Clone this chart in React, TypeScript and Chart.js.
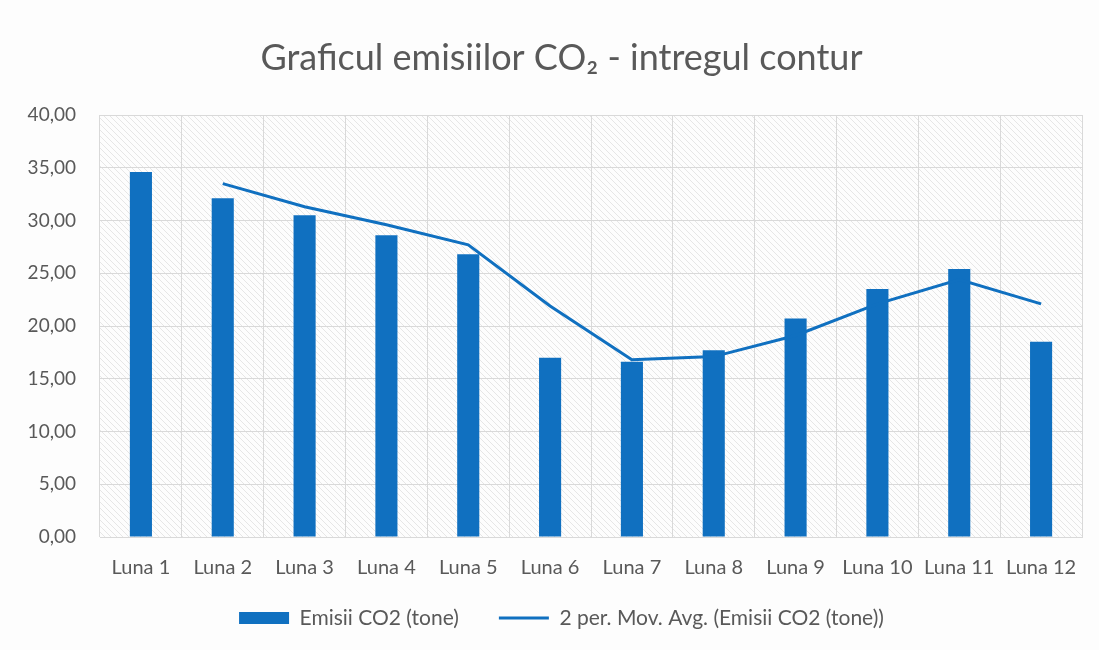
import React, { useEffect, useRef } from "react";
import { Chart, registerables } from "chart.js";

Chart.register(...registerables);

const categories = ["Luna 1", "Luna 2", "Luna 3", "Luna 4", "Luna 5", "Luna 6", "Luna 7", "Luna 8", "Luna 9", "Luna 10", "Luna 11", "Luna 12"];
const emisii = [34.6, 32.1, 30.5, 28.6, 26.8, 17.0, 16.6, 17.7, 20.7, 23.5, 25.4, 18.5];
const movAvg = [null, 33.5, 31.3, 29.6, 27.7, 21.9, 16.8, 17.1, 19.1, 22.1, 24.4, 22.1];
const yTickValues = [0, 5, 10, 15, 20, 25, 30, 35, 40];
const barLabel = "Emisii CO2 (tone)";
const lineLabel = "2 per. Mov. Avg. (Emisii CO2 (tone))";
const titleText = "Graficul emisiilor CO\u2082 - intregul contur";

const BLUE = "#1070c0";
const TEXT = "#595959";
const GRID = "#d9d9d9";
const FONT = "Lato, 'Open Sans', sans-serif";
const Y_FONT_SIZE = 19;

const fmt = (v: number) => Number(v).toFixed(2).replace(".", ",");

const hatchPlugin = {
  id: "hatch",
  beforeDraw(chart: any) {
    const { ctx, chartArea } = chart;
    const pc = document.createElement("canvas");
    pc.width = 6;
    pc.height = 6;
    const p = pc.getContext("2d")!;
    p.strokeStyle = "#e6e6e6";
    p.lineWidth = 1;
    p.beginPath();
    p.moveTo(0, 0);
    p.lineTo(6, 6);
    p.moveTo(-1, 5);
    p.lineTo(1, 7);
    p.moveTo(5, -1);
    p.lineTo(7, 1);
    p.stroke();
    ctx.save();
    ctx.fillStyle = "#fdfdfd";
    ctx.fillRect(0, 0, chart.width, chart.height);
    const pat = ctx.createPattern(pc, "repeat");
    if (pat) {
      ctx.fillStyle = pat;
      ctx.fillRect(chartArea.left, chartArea.top, chartArea.right - chartArea.left, chartArea.bottom - chartArea.top);
    }
    ctx.restore();
  },
};

export default function App() {
  const ref = useRef<HTMLCanvasElement | null>(null);
  useEffect(() => {
    if (!ref.current) return;
    const mctx = ref.current.getContext("2d")!;
    mctx.font = `${Y_FONT_SIZE}px ${FONT}`;
    const widest = Math.max(...yTickValues.map((v) => mctx.measureText(fmt(v)).width));
    const chart = new Chart(ref.current, {
      type: "bar",
      data: {
        labels: categories,
        datasets: [
          {
            type: "line",
            label: lineLabel,
            data: movAvg as any,
            borderColor: BLUE,
            borderWidth: 3,
            pointRadius: 0,
            tension: 0,
            order: 0,
          } as any,
          {
            type: "bar",
            label: barLabel,
            data: emisii,
            backgroundColor: BLUE,
            categoryPercentage: 1,
            barPercentage: 0.27,
            order: 1,
          },
        ],
      },
      plugins: [hatchPlugin],
      options: {
        responsive: false,
        animation: false,
        layout: { padding: { left: 41, right: 17, top: 0, bottom: 11.5 } },
        plugins: {
          title: {
            display: true,
            text: titleText,
            color: TEXT,
            font: { family: FONT, size: 36, weight: "normal" },
            padding: { top: 36.4, bottom: 35.4 },
          },
          legend: {
            position: "bottom",
            labels: {
              color: TEXT,
              font: { family: FONT, size: 21 },
              usePointStyle: true,
              pointStyleWidth: 50,
              boxHeight: 12,
              padding: 40,
              generateLabels: () => [
                {
                  text: barLabel,
                  fillStyle: BLUE,
                  strokeStyle: BLUE,
                  lineWidth: 0,
                  pointStyle: "rect",
                  datasetIndex: 1,
                  hidden: false,
                  fontColor: TEXT,
                } as any,
                {
                  text: lineLabel,
                  fillStyle: BLUE,
                  strokeStyle: BLUE,
                  lineWidth: 3,
                  pointStyle: "line",
                  datasetIndex: 0,
                  hidden: false,
                  fontColor: TEXT,
                } as any,
              ],
            },
          },
          tooltip: { enabled: false },
        },
        scales: {
          x: {
            grid: { color: GRID, drawTicks: false, offset: true },
            border: { color: GRID },
            ticks: {
              color: TEXT,
              font: { family: FONT, size: 20 },
              mirror: true,
              padding: -43,
              maxRotation: 0,
              autoSkip: false,
            },
            afterFit: (s: any) => {
              s.height = 30.5;
            },
          },
          y: {
            min: 0,
            max: 40,
            grid: { color: GRID, drawTicks: false },
            border: { display: false },
            ticks: {
              stepSize: 5,
              color: TEXT,
              font: { family: FONT, size: Y_FONT_SIZE },
              mirror: true,
              crossAlign: "far",
              padding: -24 - widest,
              callback: (v: any) => fmt(v),
            },
            afterFit: (s: any) => {
              s.width = 59;
            },
          },
        },
      },
    });
    return () => chart.destroy();
  }, []);
  return (
    <div style={{ position: "absolute", left: 0, top: 0, width: 1099, height: 650 }}>
      <canvas ref={ref} width={1099} height={650} />
    </div>
  );
}
